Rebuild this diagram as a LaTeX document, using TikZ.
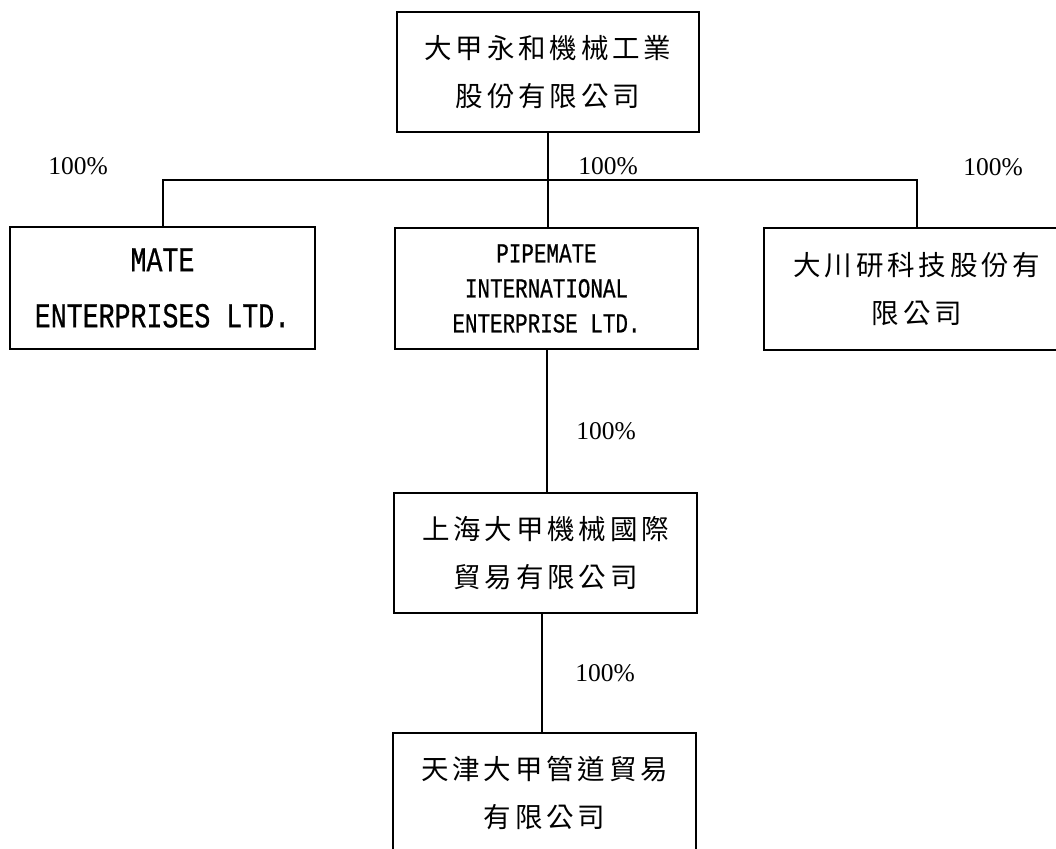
\documentclass[tikz,border=0pt]{standalone}
\usepackage{fontspec}
\setmainfont{Liberation Serif}
\newfontfamily\cjk[LetterSpace=14]{Noto Sans CJK TC}
\newfontfamily\narrowmono[FakeStretch=0.76,FakeBold=0.6]{Liberation Mono}
\begin{document}
\begin{tikzpicture}[x=1pt,y=-1pt,
  box/.style={draw=black,line width=2pt,rectangle,inner sep=0pt,
    minimum width=303pt,minimum height=121pt,align=center},
  cjkbox/.style={box,font=\cjk\fontsize{27.5}{47.5}\selectfont},
  bigmono/.style={box,font=\narrowmono\fontsize{35}{56}\selectfont},
  smallmono/.style={box,font=\narrowmono\fontsize{27.5}{35}\selectfont},
  pct/.style={font=\fontsize{25.5}{28}\selectfont,inner sep=0pt},
  link/.style={line width=2pt,black}]
\useasboundingbox (0,0) rectangle (1056,848);
\clip (0,0) rectangle (1056,848);
\fill[white] (0,0) rectangle (1056,848);

\node[cjkbox,minimum width=302pt,minimum height=120pt] (top) at (548,72) {大甲永和機械工業\\股份有限公司};
\node[bigmono,minimum width=305pt,minimum height=122pt] (mate) at (162.5,288) {MATE\\ENTERPRISES LTD.};
\node[smallmono] (pipe) at (546.5,288.5) {PIPEMATE\\INTERNATIONAL\\ENTERPRISE LTD.};
\node[cjkbox,minimum width=306pt,minimum height=122pt] (chuan) at (917,289) {大川研科技股份有\\限公司};
\node[cjkbox,minimum height=120pt] (sh) at (545.5,553) {上海大甲機械國際\\貿易有限公司};
\node[cjkbox,minimum height=120pt] (tj) at (544.5,793) {天津大甲管道貿易\\有限公司};

\coordinate (bus) at (548,180);
\draw[link] (top.south) -- (bus);
\draw[link] (mate.north) |- (bus) -| (chuan.north);
\draw[link] (bus) -- (bus |- pipe.north);
\draw[link] (pipe.south) -- (pipe.south |- sh.north);
\draw[link] (542,613) -- (542,733);

\node[pct] (p1) at (78,166) {100\%};
\node[pct] (p2) at (608,166) {100\%};
\node[pct] (p3) at (993,167) {100\%};
\node[pct] (p4) at (606,431) {100\%};
\node[pct] (p5) at (605,673) {100\%};
\end{tikzpicture}
\end{document}
